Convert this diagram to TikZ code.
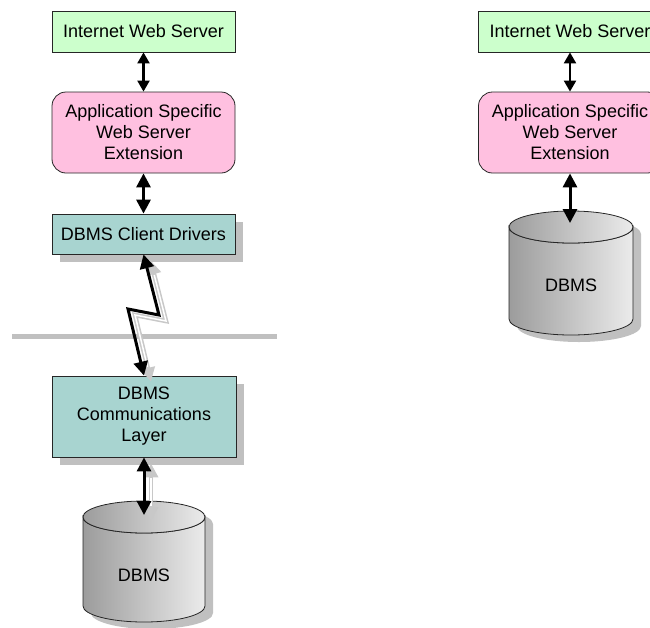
\documentclass[tikz,border=0pt]{standalone}
\usepackage{fontspec}
\setmainfont{Liberation Sans}
\usetikzlibrary{arrows.meta}
\definecolor{boxgreen}{HTML}{CCFFCC}
\definecolor{boxpink}{HTML}{FFC0E0}
\definecolor{boxteal}{HTML}{A8D4D0}
\definecolor{shadowgray}{HTML}{C0C0C0}
\definecolor{lightshadow}{HTML}{C8C8C8}
\definecolor{cylleft}{HTML}{9C9C9C}
\definecolor{cylright}{HTML}{EBEBEB}
\begin{document}
\begin{tikzpicture}[x=1pt,y=-1pt,
  txt/.style={font=\fontsize{18}{21}\selectfont, align=center, text=black},
  box/.style={txt, draw=black!85, line width=0.8pt, minimum width=183pt, inner sep=0pt},
  greenbox/.style={box, fill=boxgreen, minimum height=41pt},
  pinkbox/.style={box, fill=boxpink, minimum height=81pt, rounded corners=14pt},
  tealbox/.style={box, fill=boxteal},
  link/.style={draw=black, line width=2.2pt, {Triangle[width=12pt,length=11pt]}-{Triangle[width=12pt,length=11pt]}},
  biglink/.style={draw=black, line width=3pt, {Triangle[width=14pt,length=14pt]}-{Triangle[width=14pt,length=14pt]}},
  shadowlink/.style={draw=lightshadow, line width=4.6pt, {Triangle[width=14pt,length=14pt]}-{Triangle[width=14pt,length=14pt]}},
  shadowcore/.style={draw=white, line width=1.5pt, shorten <=15pt, shorten >=15pt},
  cyl/.style={draw=black!85, line width=0.8pt, left color=cylleft, right color=cylright},
]
\useasboundingbox (0,0) rectangle (650,627);
\clip (0,0) rectangle (650,627);

% ---------- left column ----------
% separator line
\draw[line width=5pt, shadowgray] (12,336) -- (277,336);

% box shadows
\fill[shadowgray] (60,222) rectangle (243,262);
\fill[shadowgray] (60,384) rectangle (244,465);

% nodes
\node[greenbox] (iwsL) at (143.5,31.5) {Internet Web Server};
\node[pinkbox] (appL) at (143.5,132.5) {Application Specific\\Web Server\\Extension};
\node[tealbox, minimum height=40pt] (cdL) at (143.5,234) {DBMS Client Drivers};
\node[tealbox, minimum height=81pt, minimum width=184pt] (clL) at (144,416.5) {DBMS\\Communications\\Layer};

% left cylinder
\fill[shadowgray] (91,524) -- (91,613) arc[start angle=180, end angle=0, x radius=61, y radius=16]
  -- (213,524) arc[start angle=0, end angle=-180, x radius=61, y radius=16] -- cycle;
\path[cyl] (83,517) -- (83,606) arc[start angle=180, end angle=0, x radius=61, y radius=16]
  -- (205,517) arc[start angle=0, end angle=180, x radius=61, y radius=16] -- cycle;
\path[cyl] (144,517) ellipse [x radius=61, y radius=16];
\node[txt] (dbL) at (144,575) {DBMS};
\coordinate (dbLtop) at (144,515);

% connector shadows
\begin{scope}[transform canvas={xshift=7pt,yshift=-6pt}]
  \draw[shadowlink] (cdL.south) -- (159,315) -- (128,309) -- (clL.north);
  \draw[shadowcore] (cdL.south) -- (159,315) -- (128,309) -- (clL.north);
  \draw[shadowlink] (clL.south) -- (dbLtop);
  \draw[shadowcore] (clL.south) -- (dbLtop);
\end{scope}

% connectors
\draw[link] (iwsL) -- (appL);
\draw[biglink] (appL) -- (cdL);
\draw[biglink] (cdL.south) -- (159,315) -- (128,309) -- (clL.north);
\draw[biglink] (clL.south) -- (dbLtop);

% ---------- right column ----------
\node[greenbox] (iwsR) at (570,31.5) {Internet Web Server};
\node[pinkbox] (appR) at (570,132.5) {Application Specific\\Web Server\\Extension};

\fill[shadowgray] (517,234) -- (517,326) arc[start angle=180, end angle=0, x radius=62, y radius=16]
  -- (641,234) arc[start angle=0, end angle=-180, x radius=62, y radius=16] -- cycle;
\path[cyl] (509,227) -- (509,319) arc[start angle=180, end angle=0, x radius=62, y radius=16]
  -- (633,227) arc[start angle=0, end angle=180, x radius=62, y radius=16] -- cycle;
\path[cyl] (571,227) ellipse [x radius=62, y radius=16];
\node[txt] (dbR) at (571,285) {DBMS};
\coordinate (dbRtop) at (570,223);

\draw[link] (iwsR) -- (appR);
\draw[biglink] (appR) -- (dbRtop);
\end{tikzpicture}
\end{document}
